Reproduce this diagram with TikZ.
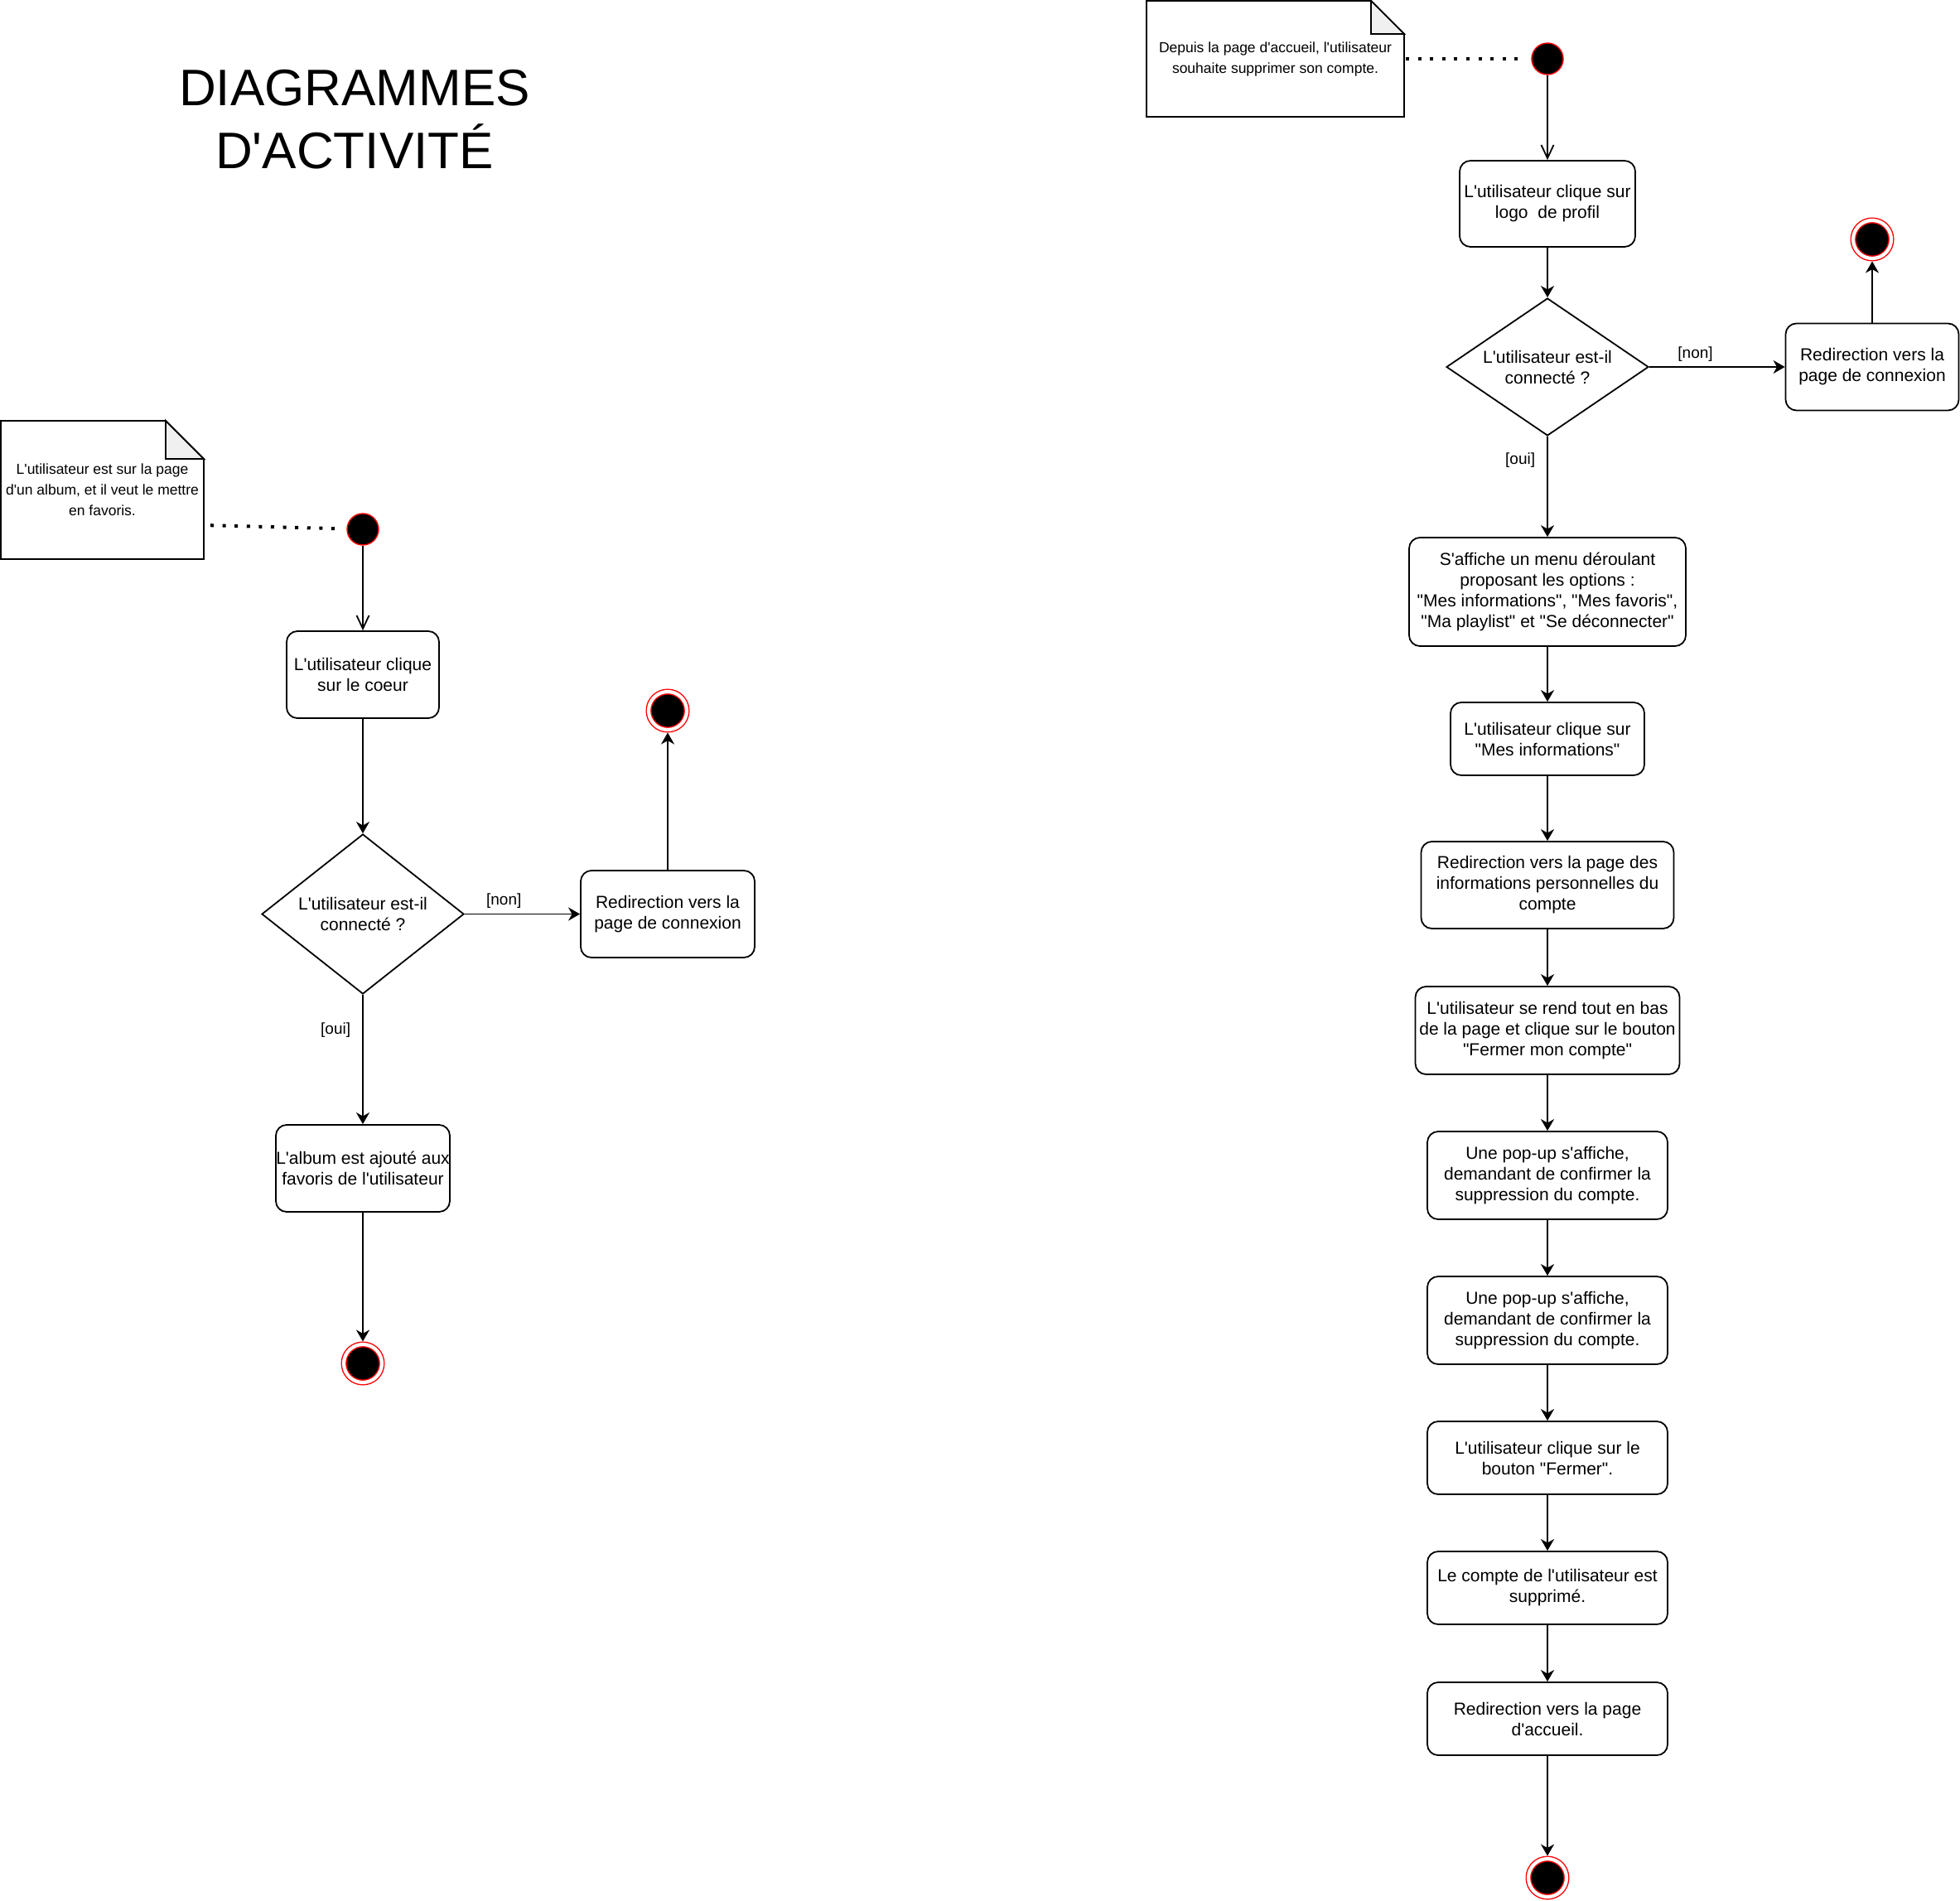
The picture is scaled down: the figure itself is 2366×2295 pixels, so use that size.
\documentclass[tikz,border=0pt]{standalone}
\usepackage{fontspec}
\setmainfont{Liberation Sans}[Ligatures=TeXOff]
\usetikzlibrary{shapes.geometric,arrows.meta}
\definecolor{pli}{RGB}{240,240,240}
\definecolor{rouge}{RGB}{255,0,0}

\begin{document}
\begin{tikzpicture}[x=0.5pt,y=-0.5pt,
  act/.style 2 args={draw,rounded corners=6.5pt,line width=0.9pt,align=center,inner sep=0pt,
    minimum width=#1,minimum height=#2,font=\fontsize{10.5}{12.5}\selectfont},
  choix/.style 2 args={diamond,draw,aspect=2,line width=0.9pt,align=center,inner sep=0pt,
    minimum width=#1,minimum height=#2,font=\fontsize{10.5}{12.5}\selectfont},
  note/.style 2 args={align=center,inner sep=0pt,outer sep=0pt,minimum width=#1,minimum height=#2,
    font=\fontsize{8.75}{12.5}\selectfont},
  etatinit/.style={circle,draw=rouge,fill=black,line width=0.7pt,minimum size=19pt,inner sep=0pt},
  etatfin/.style={circle,draw=rouge,fill=black,double=white,double distance=2.1pt,line width=0.7pt,
    minimum size=23pt,inner sep=0pt,outer sep=1.75pt},
  garde/.style={inner sep=0pt,font=\fontsize{9.5}{11}\selectfont},
  flux/.style={line width=0.9pt,-{Stealth[length=7pt,width=8pt,inset=2.2pt]}},
  fluxinit/.style={line width=0.9pt,-{Straight Barb[length=8pt,width=7.5pt]}},
  lien/.style={line width=2pt,dash pattern=on 2pt off 5.3pt}]
  \def\plia{23pt}
  \def\plib{20pt}
  \useasboundingbox (0,0) rectangle (2366,2295);
  \node[align=center,inner sep=0pt,font=\fontsize{31}{38}\selectfont] (titre) at (428,144) {DIAGRAMMES\\D'ACTIVITÉ};
  %gauche
  \node[note={122.5pt}{83.5pt}] (noteA) at (123.5,591.5) {L'utilisateur est sur la page\\d'un album, et il veut le mettre\\en favoris.};
  \draw[line width=0.9pt] (noteA.north west)--([xshift=-\plia]noteA.north east)--([yshift=-\plia]noteA.north east)--(noteA.south east)--(noteA.south west)--cycle;
  \filldraw[fill=pli,line width=0.9pt] ([xshift=-\plia]noteA.north east)--([xshift=-\plia,yshift=-\plia]noteA.north east)--([yshift=-\plia]noteA.north east)--cycle;
  \node[etatinit] (debutA) at (438,639) {};
  \node[act={92pt}{52.5pt}] (coeurA) at (438,814.5) {L'utilisateur clique\\sur le coeur};
  \node[choix={122pt}{96.5pt}] (testA) at (438,1103.5) {L'utilisateur est-il\\connecté ?};
  \node[act={105pt}{52.5pt}] (redirA) at (806,1103.5) {Redirection vers la\\page de connexion};
  \node[etatfin] (finRedirA) at (806,858) {};
  \node[act={105pt}{52.5pt}] (albumA) at (438,1410.5) {L'album est ajouté aux\\favoris de l'utilisateur};
  \node[etatfin] (finA) at (438,1646) {};
  \draw[lien,shorten <=4pt,shorten >=3.5pt] (noteA.east |- 0,634)--(debutA);
  \draw[fluxinit] (debutA)--(coeurA);
  \draw[flux] (coeurA)--(testA);
  \draw[flux] (testA)--node[garde,pos=.34,above=3pt]{[non]}(redirA);
  \draw[flux] (redirA)--(finRedirA);
  \draw[flux] (testA)--node[garde,pos=.27,left=7pt]{[oui]}(albumA);
  \draw[flux] (albumA)--(finA);
  %droite
  \node[note={155.5pt}{70pt}] (noteB) at (1539.5,71) {Depuis la page d'accueil, l'utilisateur\\souhaite supprimer son compte.};
  \draw[line width=0.9pt] (noteB.north west)--([xshift=-\plib]noteB.north east)--([yshift=-\plib]noteB.north east)--(noteB.south east)--(noteB.south west)--cycle;
  \filldraw[fill=pli,line width=0.9pt] ([xshift=-\plib]noteB.north east)--([xshift=-\plib,yshift=-\plib]noteB.north east)--([yshift=-\plib]noteB.north east)--cycle;
  \node[etatinit] (debutB) at (1868,71) {};
  \node[act={106pt}{52pt}] (logoB) at (1868,246) {L'utilisateur clique sur\\logo~ de profil};
  \node[choix={122pt}{83pt}] (testB) at (1868,443) {L'utilisateur est-il\\connecté ?};
  \node[act={104.5pt}{52.5pt}] (redirB) at (2260,443) {Redirection vers la\\page de connexion};
  \node[etatfin] (finRedirB) at (2260,289) {};
  \node[act={167pt}{65.5pt}] (menuB) at (1868,714.5) {S'affiche un menu déroulant\\proposant les options :\\"Mes informations", "Mes favoris",\\"Ma playlist" et "Se déconnecter"};
  \node[act={117pt}{44pt}] (infosB) at (1868,892) {L'utilisateur clique sur\\"Mes informations"};
  \node[act={152.5pt}{52.5pt}] (pageInfosB) at (1868,1068.5) {Redirection vers la page des\\informations personnelles du\\compte};
  \node[act={159.5pt}{53pt}] (basB) at (1868,1244) {L'utilisateur se rend tout en bas\\de la page et clique sur le bouton\\"Fermer mon compte"};
  \node[act={145pt}{53pt}] (popupB) at (1868,1419) {Une pop-up s'affiche,\\demandant de confirmer la\\suppression du compte.};
  \node[act={145pt}{53pt}] (popupBB) at (1868,1594) {Une pop-up s'affiche,\\demandant de confirmer la\\suppression du compte.};
  \node[act={145pt}{44pt}] (fermerB) at (1868,1760) {L'utilisateur clique sur le\\bouton "Fermer".};
  \node[act={145pt}{44pt}] (supprB) at (1868,1917) {Le compte de l'utilisateur est\\supprimé.};
  \node[act={145pt}{44pt}] (accueilB) at (1868,2075) {Redirection vers la page\\d'accueil.};
  \node[etatfin] (finB) at (1868,2267) {};
  \draw[lien,shorten <=1pt,shorten >=3pt] (noteB)--(debutB);
  \draw[fluxinit] (debutB)--(logoB);
  \draw[flux] (logoB)--(testB);
  \draw[flux] (testB)--node[garde,pos=.34,above=3pt]{[non]}(redirB);
  \draw[flux] (redirB)--(finRedirB);
  \draw[flux] (testB)--node[garde,pos=.24,left=7pt]{[oui]}(menuB);
  \draw[flux] (menuB)--(infosB);
  \draw[flux] (infosB)--(pageInfosB);
  \draw[flux] (pageInfosB)--(basB);
  \draw[flux] (basB)--(popupB);
  \draw[flux] (popupB)--(popupBB);
  \draw[flux] (popupBB)--(fermerB);
  \draw[flux] (fermerB)--(supprB);
  \draw[flux] (supprB)--(accueilB);
  \draw[flux] (accueilB)--(finB);
\end{tikzpicture}
\end{document}
